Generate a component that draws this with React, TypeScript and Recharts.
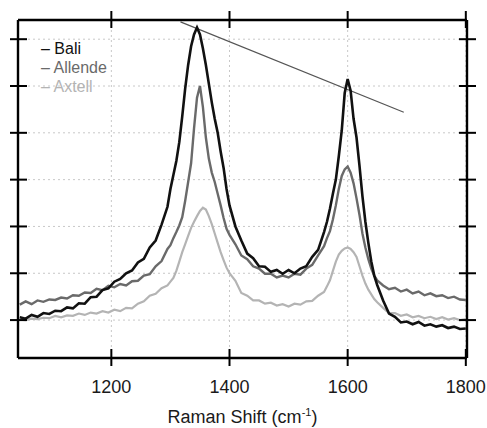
import { Label, Legend, Line, LineChart, CartesianGrid, ReferenceLine, XAxis, YAxis } from "recharts";

// Raman shift (cm-1) sample points
const wavenumber = [
  1045, 1055, 1065, 1075, 1085, 1095, 1105, 1115, 1125, 1135,
  1145, 1155, 1165, 1175, 1185, 1195, 1205, 1215, 1225, 1235,
  1245, 1255, 1265, 1275, 1285, 1295,
  1300, 1305, 1310, 1315, 1320, 1325, 1330, 1335, 1340, 1345,
  1350, 1355, 1360, 1365, 1370, 1375, 1380, 1385, 1390, 1395, 1400,
  1410, 1420, 1430, 1440, 1450, 1460, 1470, 1480, 1490, 1500,
  1510, 1520, 1530, 1540, 1550, 1560,
  1565, 1570, 1575, 1580, 1585, 1590, 1595, 1600, 1605, 1610,
  1615, 1620, 1625, 1630, 1635, 1640, 1645, 1650,
  1660, 1670, 1680, 1690, 1700, 1710, 1720, 1730, 1740, 1750,
  1760, 1770, 1780, 1790, 1800,
];

const bali = [
  0.06, 0.03, 0.11, 0.07, 0.15, 0.13, 0.2, 0.19, 0.27, 0.25,
  0.36, 0.35, 0.49, 0.5, 0.64, 0.68, 0.82, 0.88, 1.0, 1.06,
  1.23, 1.31, 1.55, 1.7, 2.04, 2.42,
  2.8, 3.1, 3.4, 3.8, 4.35, 4.95, 5.45, 5.85, 6.1, 6.25,
  6.1, 5.8, 5.45, 5.05, 4.65, 4.3, 4.0, 3.6, 3.25, 2.8, 2.45,
  2.0, 1.7, 1.42, 1.32, 1.15, 1.14, 1.03, 1.07, 0.99, 1.07,
  1.0, 1.1, 1.15, 1.35, 1.5, 1.88,
  2.1, 2.38, 2.7, 3.0, 3.5, 4.05, 4.85, 5.15, 4.9, 4.3,
  3.9, 3.3, 2.65, 2.1, 1.65, 1.25, 0.95, 0.75,
  0.42, 0.14, 0.07, -0.05, -0.03, -0.09, -0.04, -0.12, -0.09, -0.14,
  -0.11, -0.17, -0.14, -0.19, -0.18,
];

const allende = [
  0.33, 0.4, 0.34, 0.42, 0.39, 0.44, 0.43, 0.48, 0.46, 0.53,
  0.52, 0.59, 0.58, 0.67, 0.64, 0.73, 0.7, 0.77, 0.74, 0.83,
  0.84, 0.95, 0.98, 1.15, 1.26, 1.52,
  1.6, 1.75, 1.88, 2.02, 2.2, 2.55, 2.95, 3.35, 4.1, 4.75,
  5.0, 4.55, 3.9, 3.45, 3.15, 2.95, 2.7, 2.45, 2.18, 1.95, 1.82,
  1.62, 1.38, 1.3, 1.15, 1.1, 0.99, 0.99, 0.91, 0.95, 0.91,
  0.99, 0.97, 1.1, 1.18, 1.38, 1.58,
  1.75, 1.9, 2.15, 2.45, 2.8, 3.08, 3.22, 3.28, 3.15, 2.92,
  2.6, 2.25, 1.85, 1.55, 1.3, 1.1, 0.95, 0.85,
  0.74, 0.66, 0.69, 0.61, 0.65, 0.57, 0.61, 0.53, 0.57, 0.51,
  0.53, 0.47, 0.5, 0.44, 0.43,
];

const axtell = [
  0.01, 0.0, 0.03, 0.02, 0.05, 0.04, 0.09, 0.06, 0.1, 0.09,
  0.14, 0.11, 0.16, 0.14, 0.19, 0.16, 0.22, 0.19, 0.26, 0.25,
  0.35, 0.4, 0.52, 0.56, 0.68, 0.74,
  0.82, 0.9, 1.05, 1.25, 1.45, 1.62, 1.8, 1.97, 2.1, 2.22,
  2.33, 2.4, 2.36, 2.22, 2.05, 1.85, 1.65, 1.45, 1.28, 1.12, 1.0,
  0.84, 0.58, 0.52, 0.42, 0.42, 0.35, 0.37, 0.31, 0.34, 0.29,
  0.35, 0.33, 0.4, 0.41, 0.52, 0.6,
  0.72, 0.85, 1.05, 1.25, 1.4, 1.48, 1.53, 1.55, 1.52, 1.45,
  1.35, 1.15, 0.95, 0.78, 0.65, 0.55, 0.45, 0.38,
  0.26, 0.15, 0.15, 0.09, 0.12, 0.06, 0.09, 0.04, 0.07, 0.02,
  0.06, 0.01, 0.04, 0.0, 0.02,
];

const xTicks = [1200, 1400, 1600, 1800];
const yTicks = [0, 1, 2, 3, 4, 5, 6];
const slopeLine = [
  { x: 1317, y: 6.37 },
  { x: 1695, y: 4.44 },
];

const seriesInfo = [
  { key: "bali", name: "Bali", color: "#111111" },
  { key: "allende", name: "Allende", color: "#6a6a6a" },
  { key: "axtell", name: "Axtell", color: "#b4b4b4" },
];

const data = wavenumber.map((w, i) => ({
  w,
  bali: bali[i],
  allende: allende[i],
  axtell: axtell[i],
}));

const FONT = '"Liberation Sans", Arial, Helvetica, sans-serif';
const X_DOMAIN: [number, number] = [1042, 1802];
const Y_DOMAIN: [number, number] = [-0.81, 6.41];

// tick lines that cross the frame (in and out)
function crossTickX(withLabel: boolean) {
  return (props: any) => {
    const { x, y, payload } = props;
    return (
      <g>
        <line x1={x} x2={x} y1={y - 9} y2={y + 8} stroke="#000" strokeWidth={2} />
        {withLabel && (
          <text x={x} y={y + 35} textAnchor="middle" fontSize={18} fontFamily={FONT} fill="#1a1a1a">
            {payload.value}
          </text>
        )}
      </g>
    );
  };
}

function crossTickY(props: any) {
  const { x, y } = props;
  return <line x1={x - 8} x2={x + 9} y1={y} y2={y} stroke="#000" strokeWidth={2} />;
}

function AxisTitle(props: any) {
  const { x, y, width } = props.viewBox;
  return (
    <text x={x + width / 2} y={y + 65} textAnchor="middle" fontSize={18} fontFamily={FONT} fill="#1a1a1a">
      Raman Shift (cm
      <tspan dy={-7} fontSize={11}>-1</tspan>
      <tspan dy={7}>)</tspan>
    </text>
  );
}

function LegendBox() {
  return (
    <div style={{ fontFamily: FONT, fontSize: 16, lineHeight: "19px" }}>
      {seriesInfo.map((s) => (
        <div key={s.key} style={{ color: s.color, whiteSpace: "nowrap" }}>
          – {s.name}
        </div>
      ))}
    </div>
  );
}

const frame = { stroke: "#000", strokeWidth: 2.4 };

export default function App() {
  return (
    <div style={{ position: "absolute", left: 0, top: 0, width: 487, height: 428, background: "#fff" }}>
      <LineChart width={487} height={428} data={data} margin={{ top: 19, right: 19, bottom: 69, left: 17 }}>
        <CartesianGrid stroke="#c8c8c8" strokeDasharray="2 3" strokeWidth={1} />
        <XAxis
          dataKey="w"
          type="number"
          domain={X_DOMAIN}
          ticks={xTicks}
          allowDataOverflow
          height={1}
          tickSize={0}
          tickMargin={0}
          tickLine={false}
          axisLine={frame}
          tick={crossTickX(true)}
        >
          <Label content={AxisTitle} />
        </XAxis>
        <XAxis
          xAxisId="top"
          orientation="top"
          dataKey="w"
          type="number"
          domain={X_DOMAIN}
          ticks={xTicks}
          allowDataOverflow
          height={1}
          tickSize={0}
          tickMargin={0}
          tickLine={false}
          axisLine={frame}
          tick={crossTickX(false)}
        />
        <YAxis
          type="number"
          domain={Y_DOMAIN}
          ticks={yTicks}
          allowDataOverflow
          width={1}
          tickSize={0}
          tickMargin={0}
          tickLine={false}
          axisLine={frame}
          tick={crossTickY}
        />
        <YAxis
          yAxisId="right"
          orientation="right"
          type="number"
          domain={Y_DOMAIN}
          ticks={yTicks}
          allowDataOverflow
          width={1}
          tickSize={0}
          tickMargin={0}
          tickLine={false}
          axisLine={frame}
          tick={crossTickY}
        />
        <Legend
          layout="vertical"
          align="center"
          verticalAlign="middle"
          content={LegendBox}
          wrapperStyle={{ left: 41, top: 39, width: "auto" }}
        />
        <ReferenceLine segment={slopeLine} stroke="#555" strokeWidth={1.2} ifOverflow="visible" />
        <Line dataKey="axtell" stroke="#b4b4b4" strokeWidth={2.2} dot={false} isAnimationActive={false} />
        <Line dataKey="allende" stroke="#6a6a6a" strokeWidth={2.4} dot={false} isAnimationActive={false} />
        <Line dataKey="bali" stroke="#111111" strokeWidth={2.6} dot={false} isAnimationActive={false} />
      </LineChart>
    </div>
  );
}
